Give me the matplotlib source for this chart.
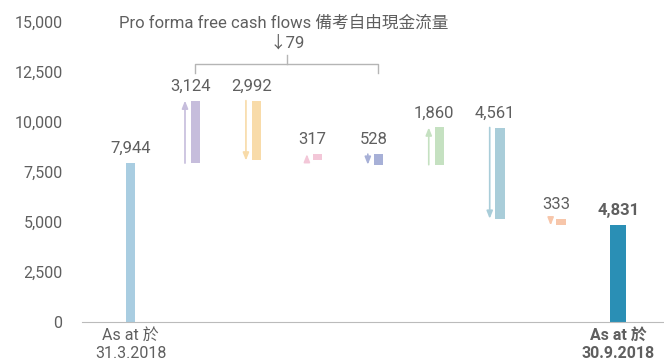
import matplotlib.pyplot as plt
import numpy as np

plt.rcParams['font.family'] = ['Roboto', 'Noto Sans CJK TC', 'DejaVu Sans']

# opening balance, movements, closing balance (HK$ million)
opening = 7944
changes = [3124, -2992, 317, -528, 1860, -4561, -333]
closing = 4831
step_colors = ['#c6bddc', '#f8dba9', '#f3c7d8', '#a7b0d7', '#c5e1c1', '#a9cdd9', '#f7c6aa']
start_color = '#a9cde1'
end_color = '#2a8fb5'
x_labels = ['As at 於\n31.3.2018', 'As at 於\n30.9.2018']
bracket_title = 'Pro forma free cash flows 備考自由現金流量'
bracket_value = '↓79'
text_col = '#5f5f5f'

fig = plt.figure(figsize=(6.64, 3.63), dpi=100)
ax = fig.add_axes([82 / 664, 41 / 363, 582 / 664, 300 / 363])

n = len(changes)
xs = np.arange(n + 2).astype(float)
xs[1:-1] += 0.06

# opening bar
ax.bar(xs[0], opening, width=0.15, color=start_color)
ax.annotate(f'{opening:,}', (xs[0], opening), xytext=(0, 5), textcoords='offset points',
            ha='center', va='bottom', fontsize=12, color=text_col)

# floating movement bars with arrows alongside
level = opening
for i, (d, c) in enumerate(zip(changes, step_colors)):
    x = xs[i + 1]
    lo, hi = min(level, level + d), max(level, level + d)
    ax.bar(x, hi - lo, bottom=lo, width=0.15, color=c)
    ax.annotate('', xy=(x - 0.17, level + d), xytext=(x - 0.17, level),
                arrowprops=dict(arrowstyle='-|>,head_length=0.45,head_width=0.18',
                                color=c, lw=1.2, shrinkA=0, shrinkB=0))
    ax.annotate(f'{abs(d):,}', (x - 0.08, hi), xytext=(0, 5), textcoords='offset points',
                ha='center', va='bottom', fontsize=12, color=text_col)
    level += d

# closing bar
ax.bar(xs[-1], closing, width=0.26, color=end_color)
ax.annotate(f'{closing:,}', (xs[-1], closing), xytext=(0, 5), textcoords='offset points',
            ha='center', va='bottom', fontsize=12, color=text_col, fontweight='bold')

# bracket over the free cash flow items
bl, br = xs[1], xs[4]
by = 12900
ax.plot([bl, bl, br, br], [by - 450, by, by, by - 450], color='#b5b5b5', lw=1, clip_on=False)
ax.plot([(bl + br) / 2] * 2, [by, by + 450], color='#b5b5b5', lw=1, clip_on=False)
ax.text((bl + br) / 2, 13950, bracket_value, ha='center', va='center',
        fontsize=12, color=text_col)
ax.text((bl + br) / 2 - 0.05, 14950, bracket_title, ha='center', va='center',
        fontsize=12, color=text_col)

ax.set_xlim(-0.8, 8.75)
ax.set_ylim(0, 15000)
ax.set_yticks(np.arange(0, 15001, 2500))
ax.set_yticklabels([f'{v:,}' for v in range(0, 15001, 2500)], fontsize=11.5, color=text_col)
ax.tick_params(axis='y', length=0, pad=14)
ax.set_xticks([xs[0], xs[-1]])
ax.set_xticklabels(x_labels, fontsize=11.5, color=text_col, linespacing=1.3)
ax.get_xticklabels()[1].set_fontweight('bold')
ax.tick_params(axis='x', length=0, pad=4)
for s in ['top', 'right', 'left']:
    ax.spines[s].set_visible(False)
ax.spines['bottom'].set_color('#bbbbbb')

fig.savefig('out.png', dpi=100)
